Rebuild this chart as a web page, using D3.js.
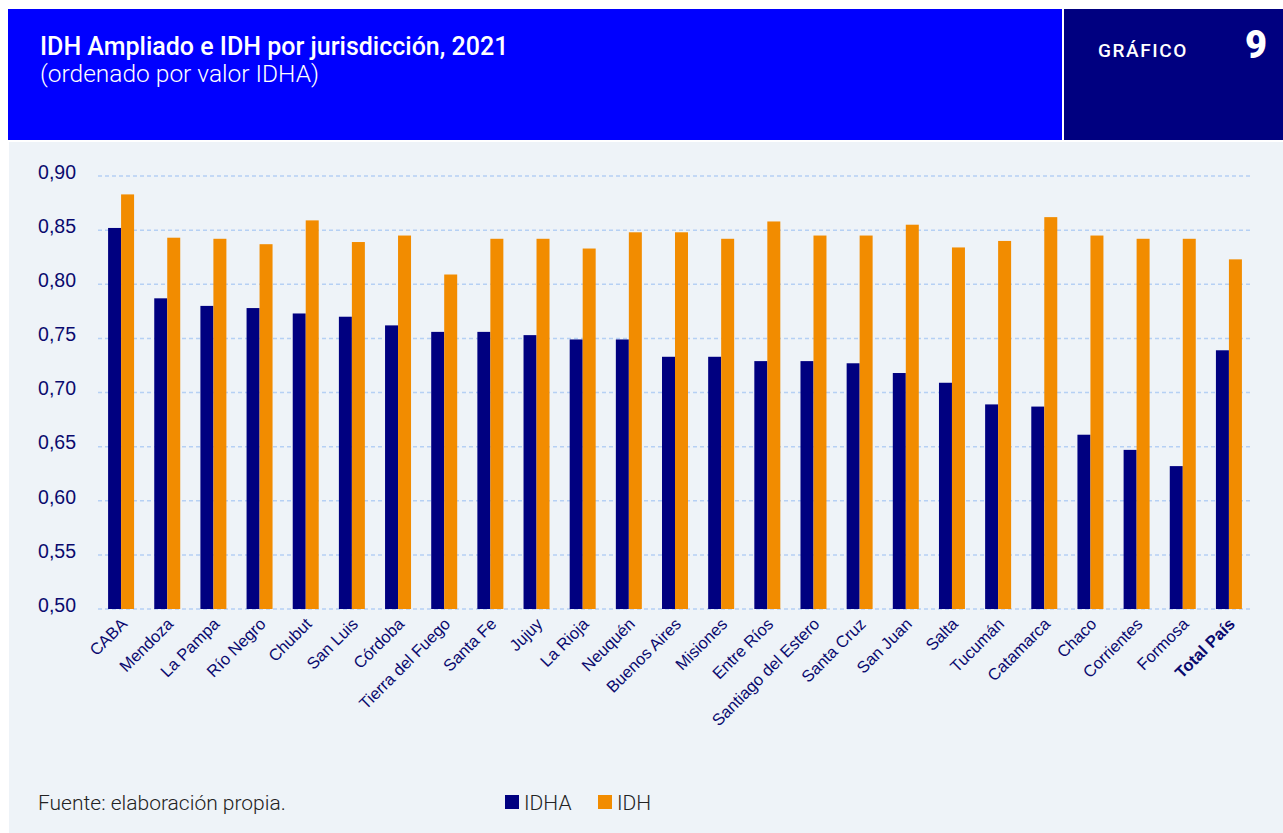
<!DOCTYPE html>
<html><head><meta charset="utf-8">
<script src="https://cdn.jsdelivr.net/npm/d3@7"></script>
<style>
html,body{margin:0;padding:0;background:#fff;}
svg{display:block;}
</style></head>
<body>
<svg id="chart" width="1283" height="833"></svg>
<script>
const categories = ["CABA","Mendoza","La Pampa","Río Negro","Chubut","San Luis","Córdoba","Tierra del Fuego","Santa Fe","Jujuy","La Rioja","Neuquén","Buenos Aires","Misiones","Entre Ríos","Santiago del Estero","Santa Cruz","San Juan","Salta","Tucumán","Catamarca","Chaco","Corrientes","Formosa","Total País"];
const idha = [0.852,0.787,0.780,0.778,0.773,0.770,0.762,0.756,0.756,0.753,0.749,0.749,0.733,0.733,0.729,0.729,0.727,0.718,0.709,0.689,0.687,0.661,0.647,0.632,0.739];
const idh  = [0.883,0.843,0.842,0.837,0.859,0.839,0.845,0.809,0.842,0.842,0.833,0.848,0.848,0.842,0.858,0.845,0.845,0.855,0.834,0.840,0.862,0.845,0.842,0.842,0.823];
const seriesNames = ["IDHA","IDH"];
const yTicks = [0.50,0.55,0.60,0.65,0.70,0.75,0.80,0.85,0.90];

const colors = {IDHA:"#000080", IDH:"#F28C00"};
const svg = d3.select("#chart");

// header
svg.append("rect").attr("x",8).attr("y",9).attr("width",1054).attr("height",131).attr("fill","#0000FF");
svg.append("rect").attr("x",1064).attr("y",9).attr("width",219).attr("height",131).attr("fill","#000080");
svg.append("rect").attr("x",9).attr("y",142).attr("width",1274).attr("height",691).attr("fill","#EEF3F8");

svg.append("text").attr("x",40).attr("y",55).attr("fill","#fff")
  .style("font-family","Roboto").style("font-weight",500).style("font-size","25px")
  .text("IDH Ampliado e IDH por jurisdicción, 2021");
svg.append("text").attr("x",40).attr("y",82).attr("fill","#fff")
  .style("font-family","Roboto").style("font-weight",300).style("font-size","24.5px")
  .text("(ordenado por valor IDHA)");
svg.append("text").attr("x",1098).attr("y",57).attr("fill","#fff")
  .style("font-family","Roboto").style("font-weight",500).style("font-size","19px").style("letter-spacing","1.6px")
  .text("GRÁFICO");
svg.append("text").attr("x",1267).attr("y",58).attr("fill","#fff").attr("text-anchor","end")
  .style("font-family","Roboto").style("font-weight",900).style("font-size","38px")
  .text("9");

// scales
const x0 = d3.scaleBand().domain(categories).range([98,1252]).paddingInner(0.437).paddingOuter(0.2185);
const x1 = d3.scaleBand().domain(seriesNames).range([0,x0.bandwidth()]);
const y = d3.scaleLinear().domain([0.5,0.9]).range([609,176]);

// grid
svg.append("g").selectAll("line").data(yTicks).join("line")
  .attr("x1",98).attr("x2",1252).attr("y1",d=>y(d)).attr("y2",d=>y(d))
  .attr("stroke","#B5D0F4").attr("stroke-width",1.5).attr("stroke-dasharray","4,3");

// y labels
const yAxis = d3.axisLeft(y).tickValues(yTicks).tickFormat(d=>d3.format(".2f")(d).replace(".",",")).tickSize(0);
const ya = svg.append("g").attr("transform","translate(76,-4)").call(yAxis);
ya.select(".domain").remove();
ya.selectAll("text").attr("fill","#0A0A6E").style("font-family","Liberation Sans, Arial").style("font-size","19.5px").attr("x",0);

// bars
const groups = svg.append("g").selectAll("g").data(categories).join("g")
  .attr("transform",d=>`translate(${x0(d)},0)`);
groups.selectAll("rect").data((d,i)=>[{k:"IDHA",v:idha[i]},{k:"IDH",v:idh[i]}]).join("rect")
  .attr("x",d=>x1(d.k)).attr("width",x1.bandwidth())
  .attr("y",d=>y(d.v)).attr("height",d=>y(0.5)-y(d.v))
  .attr("fill",d=>colors[d.k]);

// x labels
const xa = svg.append("g").attr("transform","translate(0,609)").call(d3.axisBottom(x0).tickSize(0));
xa.select(".domain").remove();
xa.selectAll("text")
  .attr("fill","#0A0A6E").style("font-family","Liberation Sans, Arial").style("font-size","16.5px")
  .attr("text-anchor","end").attr("y",0).attr("dy","0.35em")
  .attr("transform","translate(3,12) rotate(-45)")
  .style("font-weight",d=>d==="Total País"?"bold":"normal");

// footer
svg.append("text").attr("x",38).attr("y",810).attr("fill","#222")
  .style("font-family","Roboto").style("font-weight",300).style("font-size","21px")
  .text("Fuente: elaboración propia.");
const leg = svg.append("g").selectAll("g").data(seriesNames).join("g")
  .attr("transform",(d,i)=>`translate(${505+i*93},795)`);
leg.append("rect").attr("width",14).attr("height",14).attr("fill",d=>colors[d]);
leg.append("text").attr("x",19).attr("y",15).attr("fill","#222")
  .style("font-family","Roboto").style("font-weight",300).style("font-size","21px").text(d=>d);
</script>
</body></html>
